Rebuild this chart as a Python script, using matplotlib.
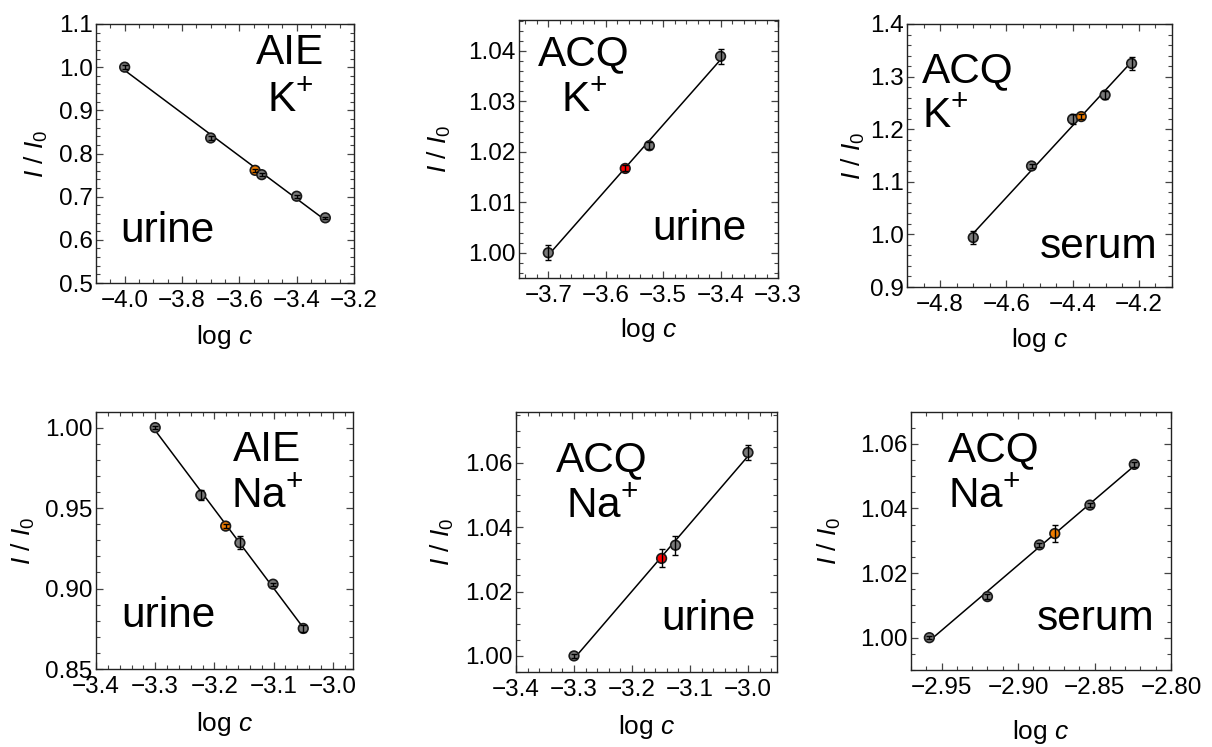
import numpy as np
import matplotlib
matplotlib.use("Agg")
import matplotlib.pyplot as plt
from matplotlib.ticker import AutoMinorLocator, FuncFormatter

plt.rcParams["font.family"] = ["Liberation Sans", "DejaVu Sans"]
plt.rcParams["mathtext.fontset"] = "custom"
plt.rcParams["mathtext.rm"] = "Liberation Sans"
plt.rcParams["mathtext.it"] = "Liberation Sans:italic"

# ---- data ----
# top row: K+
aie_k_x = [-4.0, -3.7, -3.545, -3.522, -3.40, -3.30]
aie_k_y = [1.000, 0.836, 0.761, 0.751, 0.701, 0.651]
aie_k_err = [0.004, 0.004, 0.004, 0.003, 0.004, 0.003]

acq_k_urine_x = [-3.70, -3.566, -3.524, -3.40]
acq_k_urine_y = [1.0000, 1.0167, 1.0212, 1.0389]
acq_k_urine_err = [0.0015, 0.0006, 0.0007, 0.0015]

acq_k_serum_x = [-4.70, -4.524, -4.40, -4.374, -4.302, -4.222]
acq_k_serum_y = [0.994, 1.130, 1.219, 1.224, 1.265, 1.325]
acq_k_serum_err = [0.012, 0.004, 0.010, 0.005, 0.008, 0.012]

# bottom row: Na+
aie_na_x = [-3.30, -3.223, -3.181, -3.157, -3.101, -3.05]
aie_na_y = [1.000, 0.958, 0.9388, 0.9284, 0.9027, 0.8752]
aie_na_err = [0.001, 0.003, 0.001, 0.004, 0.001, 0.002]

acq_na_urine_x = [-3.30, -3.149, -3.125, -3.00]
acq_na_urine_y = [1.0000, 1.0303, 1.0344, 1.0632]
acq_na_urine_err = [0.0005, 0.0028, 0.003, 0.0022]

acq_na_serum_x = [-2.958, -2.920, -2.886, -2.876, -2.853, -2.824]
acq_na_serum_y = [1.0000, 1.0127, 1.0287, 1.0322, 1.0410, 1.0536]
acq_na_serum_err = [0.0005, 0.0007, 0.0007, 0.0027, 0.0007, 0.0007]

# highlighted sample point in each panel
highlight_idx = [2, 1, 3, 2, 1, 3]
highlight_col = ["#f07d00", "#ff0000", "#f07d00", "#f07d00", "#ff0000", "#f07d00"]

titles = [("AIE", "K"), ("ACQ", "K"), ("ACQ", "K"), ("AIE", "Na"), ("ACQ", "Na"), ("ACQ", "Na")]
samples = ["urine", "urine", "serum", "urine", "urine", "serum"]

x_ticks = [
    [-4.0, -3.8, -3.6, -3.4, -3.2],
    [-3.7, -3.6, -3.5, -3.4, -3.3],
    [-4.8, -4.6, -4.4, -4.2],
    [-3.4, -3.3, -3.2, -3.1, -3.0],
    [-3.4, -3.3, -3.2, -3.1, -3.0],
    [-2.95, -2.90, -2.85, -2.80],
]
y_ticks = [
    [0.5, 0.6, 0.7, 0.8, 0.9, 1.0, 1.1],
    [1.00, 1.01, 1.02, 1.03, 1.04],
    [0.9, 1.0, 1.1, 1.2, 1.3, 1.4],
    [0.85, 0.90, 0.95, 1.00],
    [1.00, 1.02, 1.04, 1.06],
    [1.00, 1.02, 1.04, 1.06],
]

panels = [
    (aie_k_x, aie_k_y, aie_k_err),
    (acq_k_urine_x, acq_k_urine_y, acq_k_urine_err),
    (acq_k_serum_x, acq_k_serum_y, acq_k_serum_err),
    (aie_na_x, aie_na_y, aie_na_err),
    (acq_na_urine_x, acq_na_urine_y, acq_na_urine_err),
    (acq_na_serum_x, acq_na_serum_y, acq_na_serum_err),
]

# ---- layout (pixels on a 1212x747 canvas) ----
W, H = 1212, 747
boxes = [(96, 24, 354, 283), (519, 20, 778, 278), (907, 24, 1172, 287),
         (96, 412, 353, 669), (516, 412, 777, 672), (911, 412, 1171, 670)]
xlims = [(-4.1, -3.2), (-3.751, -3.3), (-4.9, -4.1),
         (-3.4, -2.966), (-3.4, -2.95), (-2.97, -2.80)]
ylims = [(0.5, 1.1), (0.995, 1.0461), (0.9, 1.4),
         (0.85, 1.0097), (0.995, 1.0758), (0.99, 1.0698)]
xdec = [1, 1, 1, 1, 1, 2]
ydec = [1, 2, 1, 2, 2, 2]
xminor = [4, 5, 4, 5, 5, 5]
yminor = [5, 5, 5, 5, 4, 4]
# (x anchor px, ha, baseline line1, baseline line2)
title_pos = [(290, "center", 64, 112), (584, "center", 65, 112), (922, "left", 82, 127),
             (267, "center", 461, 507), (602, "center", 471, 517), (948, "left", 461, 507)]
sample_pos = [(167, 242), (699, 240), (1099, 258), (168, 627), (708, 630), (1096, 630)]
ylab_off = [60, 80, 54, 73, 74, 82]
xlab_off = [54, 52, 53, 55, 55, 62]

TICK_FS = 17.5
LAB_FS = 19
ANN_FS = 30.5

fig = plt.figure(figsize=(W / 100, H / 100), dpi=100)


def fx(px):
    return px / W


def fy(py):
    return 1 - py / H


def make_fmt(nd):
    # real minus sign, like the original
    return FuncFormatter(lambda v, pos: f"{v:.{nd}f}".replace("-", "\u2212"))


for i, (xs, ys, es) in enumerate(panels):
    x0, y0, x1, y1 = boxes[i]
    ax = fig.add_axes([fx(x0), fy(y1), fx(x1 - x0), (y1 - y0) / H])
    xs = np.array(xs)
    ys = np.array(ys)

    # straight-line fit through the calibration points
    k, b = np.polyfit(xs, ys, 1)
    xl = np.array([xs.min(), xs.max()])
    ax.plot(xl, k * xl + b, color="black", lw=1.1, zorder=2)

    cols = ["#7a7a7a"] * len(xs)
    cols[highlight_idx[i]] = highlight_col[i]
    ax.scatter(xs, ys, s=48, c=cols, edgecolors="#1a1a1a", linewidths=1.2, zorder=3)
    ax.errorbar(xs, ys, yerr=es, fmt="none", ecolor="black", elinewidth=1,
                capsize=2, capthick=1, zorder=4)

    ax.set_xlim(*xlims[i])
    ax.set_ylim(*ylims[i])
    ax.set_xticks(x_ticks[i])
    ax.set_yticks(y_ticks[i])
    ax.xaxis.set_major_formatter(make_fmt(xdec[i]))
    ax.yaxis.set_major_formatter(make_fmt(ydec[i]))
    ax.xaxis.set_minor_locator(AutoMinorLocator(xminor[i]))
    ax.yaxis.set_minor_locator(AutoMinorLocator(yminor[i]))
    ax.tick_params(which="both", direction="in", top=True, right=True,
                   color="#444444", labelsize=TICK_FS)
    ax.tick_params(which="major", length=5, width=0.9)
    ax.tick_params(which="minor", length=2.8, width=0.8)
    ax.tick_params(axis="x", pad=5)
    ax.tick_params(axis="y", pad=2.5)
    for sp in ax.spines.values():
        sp.set_linewidth(1.0)
        sp.set_color("#222222")

    w = x1 - x0
    h = y1 - y0
    ax.text(-ylab_off[i] / w, 0.5, r"$I\ /\ I_0$", transform=ax.transAxes,
            rotation=90, ha="center", va="center", fontsize=LAB_FS)
    ax.text(0.5, -xlab_off[i] / h, r"log $c$", transform=ax.transAxes,
            ha="center", va="center", fontsize=LAB_FS)

    tx, ha, b1, b2 = title_pos[i]
    fig.text(fx(tx), fy(b1), titles[i][0], ha=ha, va="baseline", fontsize=ANN_FS)
    fig.text(fx(tx), fy(b2), titles[i][1] + r"$^{\mathrm{+}}$", ha=ha, va="baseline",
             fontsize=ANN_FS)
    sx, sb = sample_pos[i]
    fig.text(fx(sx), fy(sb), samples[i], ha="center", va="baseline", fontsize=ANN_FS)

fig.savefig("out.png", dpi=100)
